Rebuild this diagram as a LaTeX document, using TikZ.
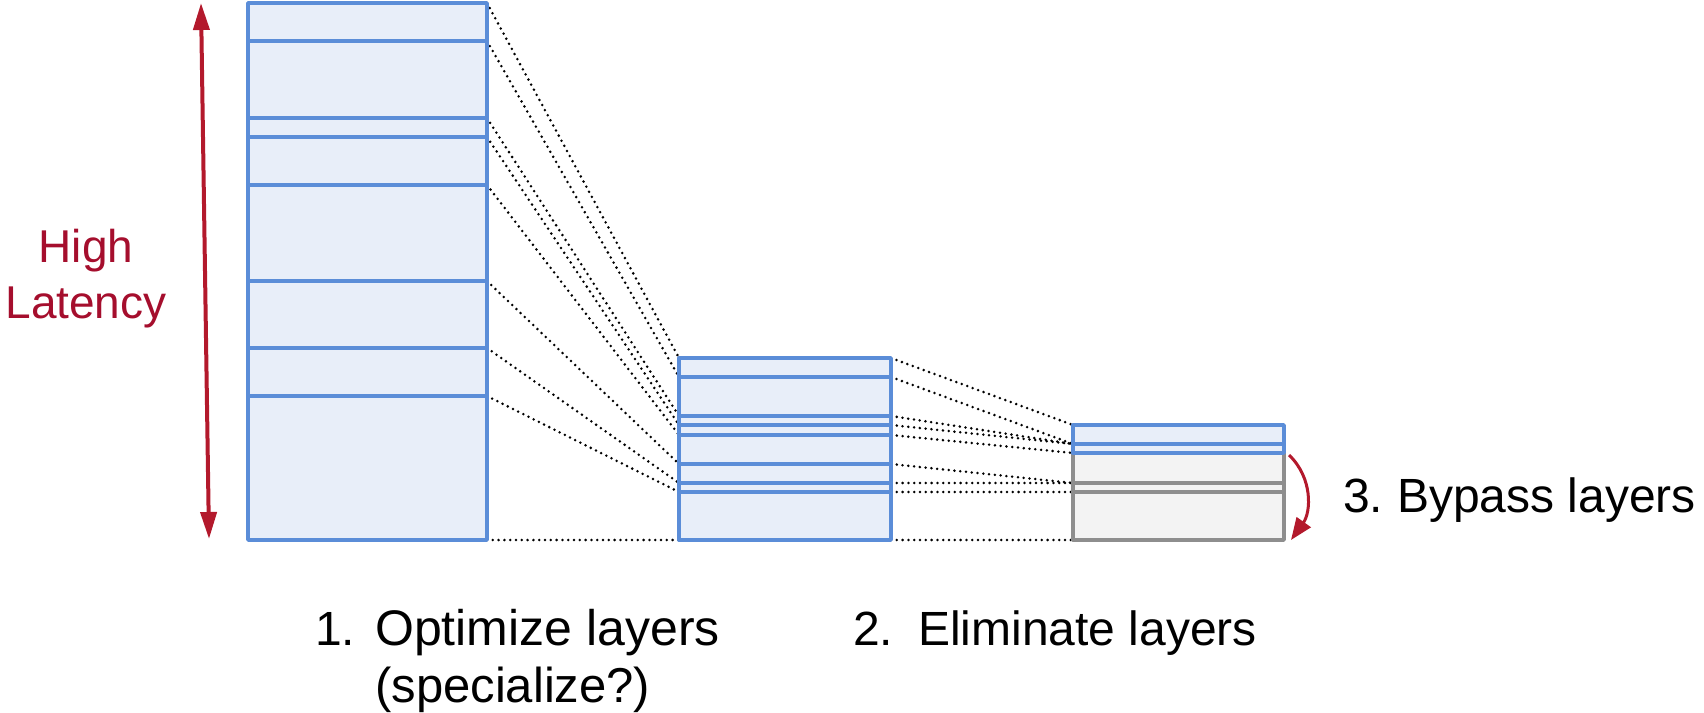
\documentclass[tikz,border=0pt]{standalone}
\usepackage{fontspec}
\setmainfont{Liberation Sans}
\usetikzlibrary{arrows.meta}
\definecolor{lblue}{HTML}{5B8DD8}
\definecolor{lfill}{HTML}{E8EEF9}
\definecolor{gstroke}{HTML}{8E8E8E}
\definecolor{gfill}{HTML}{F3F3F3}
\definecolor{ared}{HTML}{B3192C}
\definecolor{tred}{HTML}{A50E2D}
\begin{document}
\begin{tikzpicture}[x=1pt,y=-1pt,
  layerbox/.style={draw=lblue, fill=lfill, line width=3.4pt, line join=round},
  greybox/.style={draw=gstroke, fill=gfill, line width=3.4pt, line join=round},
  sepline/.style={draw=lblue, line width=3.4pt},
  gsepline/.style={draw=gstroke, line width=3.4pt},
  dotline/.style={line width=2.8pt, dash pattern=on 0pt off 5.8pt, line cap=round},
  lbl/.style={font=\fontsize{48}{56}\selectfont, inner sep=0pt, anchor=base west},
  redlbl/.style={font=\fontsize{46}{56}\selectfont, inner sep=0pt, anchor=base, text=tred},
]
\useasboundingbox (0,0) rectangle (1704,712);

% boundary coordinates
\foreach \y [count=\i] in {3,41,118,137,185,281,348,396,540}
  \coordinate (A\i) at (487,\y);
\foreach \y [count=\i] in {358,377,416,425,435,464,483,492,540}
  \coordinate (B\i) at (679,\y);
\foreach \y [count=\i] in {358,377,416,425,435,464,483,492,540}
  \coordinate (C\i) at (891,\y);
\foreach \y [count=\i] in {425,444,444,444,453,483,483,492,540}
  \coordinate (D\i) at (1073,\y);

% dotted connectors
\foreach \i in {1,...,9} {
  \draw[dotline] (A\i) -- (B\i);
  \draw[dotline] (C\i) -- (D\i);
}

% stack 1
\draw[layerbox] (248,3) rectangle (487,540);
\foreach \y in {41,118,137,185,281,348,396}
  \draw[sepline] (248,\y) -- (487,\y);

% stack 2
\draw[layerbox] (679,358) rectangle (891,540);
\foreach \y in {377,416,425,435,464,483,492}
  \draw[sepline] (679,\y) -- (891,\y);

% stack 3
\draw[greybox] (1073,453) rectangle (1284,540);
\foreach \y in {483,492}
  \draw[gsepline] (1073,\y) -- (1284,\y);
\draw[layerbox] (1073,425) rectangle (1284,453);
\draw[sepline] (1073,444) -- (1284,444);

% latency arrow
\coordinate (lt) at (201,3);
\coordinate (lb) at (209,539);
\draw[ared, line width=4pt, {Triangle[width=16pt,length=27pt]}-{Triangle[width=16pt,length=27pt]}] (lt) -- (lb);

% bypass arrow
\coordinate (bs) at (1289,455);
\coordinate (be) at (1291,540);
\draw[ared, line width=3pt, -{Triangle[width=17pt,length=22pt]}] (bs) .. controls (1313,478) and (1311,512) .. (be);

% labels
\node[redlbl] (hi) at (86,262) {High};
\node[redlbl] (lat) at (86,318) {Latency};

\node[lbl] (n1) at (315,645) {1.};
\node[lbl, font=\fontsize{50}{56}\selectfont] (t1) at (375,645) {Optimize layers};
\node[lbl, font=\fontsize{49}{56}\selectfont] (t1b) at (375,702) {(specialize?)};
\node[lbl] (n2) at (853,645) {2.};
\node[lbl] (t2) at (918,645) {Eliminate layers};
\node[lbl] (n3) at (1343,512) {3.};
\node[lbl] (t3) at (1397,512) {Bypass layers};
\end{tikzpicture}
\end{document}
